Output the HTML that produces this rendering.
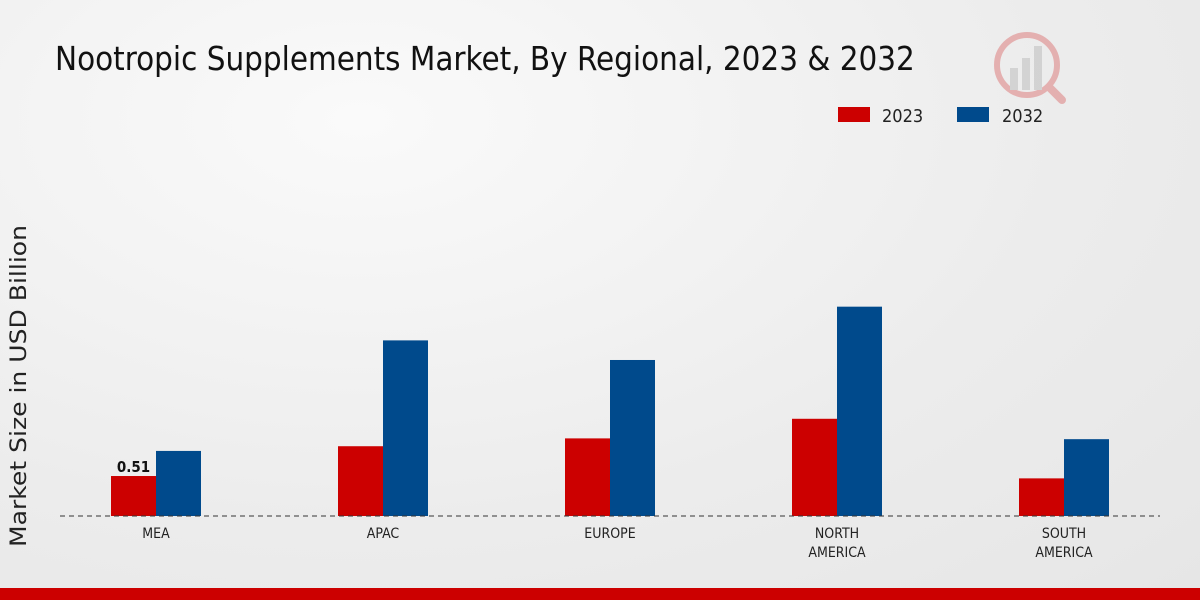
<!DOCTYPE html>
<html><head><meta charset="utf-8"><style>
body{margin:0;width:1200px;height:600px;overflow:hidden;font-family:"DejaVu Sans Condensed","Liberation Sans",sans-serif;}
#bg{position:absolute;left:0;top:0;width:1200px;height:600px;background:radial-gradient(ellipse at 30% 20%,#fafafa 0%,#ececec 60%,#e6e6e6 100%);}
</style></head><body>
<div id="bg"></div>
<svg id="c" width="1200" height="600" style="position:absolute;left:0;top:0">
<text x="55" y="70" font-size="32.8" fill="#111" font-family="DejaVu Sans Condensed, Liberation Sans, sans-serif">Nootropic Supplements Market, By Regional, 2023 &amp; 2032</text>
<g>
<rect x="838" y="107" width="32" height="15" fill="#cc0000"/>
<text x="882" y="122" font-size="18" fill="#222">2023</text>
<rect x="957" y="107" width="32" height="15" fill="#004a8c"/>
<text x="1002" y="122" font-size="18" fill="#222">2032</text>
</g>
<text transform="translate(26,386) rotate(-90)" text-anchor="middle" font-size="22.5" textLength="322" lengthAdjust="spacingAndGlyphs" fill="#222" font-family="DejaVu Sans, sans-serif">Market Size in USD Billion</text>
<g id="bars"></g>
<line x1="60" y1="516" x2="1160" y2="516" stroke="#333" stroke-dasharray="5,4"/>
<g opacity="0.25">
<circle cx="1027" cy="65" r="30" fill="none" stroke="#c00" stroke-width="6"/>
<rect x="1010" y="68" width="8" height="22" fill="#888"/><rect x="1022" y="58" width="8" height="32" fill="#888"/><rect x="1034" y="46" width="8" height="44" fill="#888"/>
<line x1="1050" y1="88" x2="1062" y2="100" stroke="#c00" stroke-width="8" stroke-linecap="round"/>
</g>
<rect x="0" y="588" width="1200" height="12" fill="#cc0000"/>
</svg>
<script>
const categories=[["MEA"],["APAC"],["EUROPE"],["NORTH","AMERICA"],["SOUTH","AMERICA"]];
const values2023=[0.51,0.89,0.99,1.24,0.48];
const values2032=[0.83,2.24,1.99,2.67,0.98];
const labels2023=["0.51",null,null,null,null];
const base=516,scale=78.4,x0=156,step=227,bw=45;
const y=v=>base-v*scale;
const ns="http://www.w3.org/2000/svg",g=document.getElementById('bars');
categories.forEach((cat,i)=>{
  const cx=x0+i*step;
  [[values2023,"#cc0000",cx-bw,"2023"],[values2032,"#004a8c",cx,"2032"]].forEach(([arr,col,x,s])=>{
    const r=document.createElementNS(ns,'rect');
    
    
    r.setAttribute('x',x);r.setAttribute('width',bw);r.setAttribute('y',y(arr[i]));r.setAttribute('height',base-y(arr[i]));r.setAttribute('fill',col);
    g.appendChild(r);
  });
  if(labels2023[i]){
    const t=document.createElementNS(ns,'text');
    
    
    t.setAttribute('x',cx-bw/2);t.setAttribute('y',y(values2023[i])-4);t.setAttribute('text-anchor','middle');t.setAttribute('font-size','15');t.setAttribute('font-weight','bold');t.setAttribute('fill','#111');
    t.textContent=labels2023[i];g.appendChild(t);
  }
  cat.forEach((line,j)=>{
    const t=document.createElementNS(ns,'text');
    
    
    t.setAttribute('x',cx);t.setAttribute('y',538+j*19);t.setAttribute('text-anchor','middle');t.setAttribute('font-size','14');t.setAttribute('fill','#222');
    t.textContent=line;g.appendChild(t);
  });
});
</script>
</body></html>
